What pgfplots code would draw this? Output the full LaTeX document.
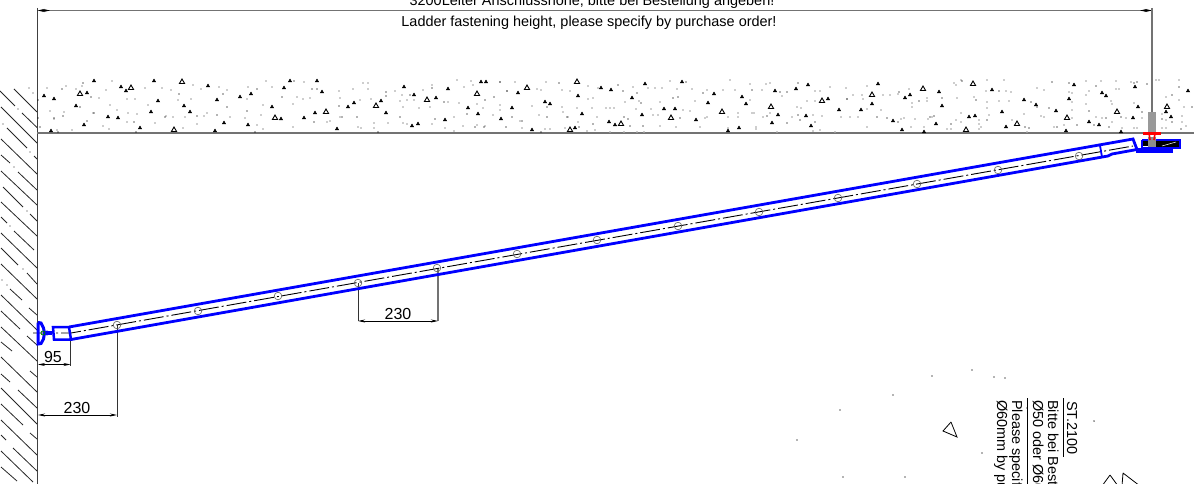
\documentclass[border=0pt]{standalone}
\usepackage{fontspec}
\setmainfont{Liberation Sans}
\usepackage{pgfplots}
\pgfplotsset{compat=1.18}
\usetikzlibrary{arrows.meta}

\definecolor{ladder}{RGB}{0,0,255}
\definecolor{dimgray}{RGB}{115,115,115}
\definecolor{speck}{RGB}{175,175,175}

\tikzset{dimline/.style={black, line width=0.9pt,
    {Stealth[length=7pt,width=3pt]}-{Stealth[length=7pt,width=3pt]}}}

\begin{document}
\begin{tikzpicture}
\useasboundingbox (0,0) rectangle (1199pt,484pt);
\clip (0,0) rectangle (1199pt,484pt);
\begin{axis}[
    at={(0,0)}, anchor=south west,
    scale only axis,
    width=1199pt, height=484pt,
    xmin=0, xmax=1199,
    ymin=0, ymax=484,
    y dir=reverse,
    hide axis,
    clip=true,
    unbounded coords=jump,
]

% wall hatching
\addplot[black!85, line width=0.8pt] coordinates {
  (14,89) (37,112) (nan,nan)
  (0,91) (15,106) (nan,nan) (22,113) (37,127.5) (nan,nan)
  (1,107) (37,143) (nan,nan)
  (7,128) (27,148) (nan,nan) (34,156) (37,159) (nan,nan)
  (1,139) (37,174) (nan,nan)
  (1,155) (10,163) (nan,nan) (18,172) (37,190) (nan,nan)
  (1,171) (37,205) (nan,nan)
  (3,187) (23,207) (nan,nan) (30,214) (37,221) (nan,nan)
  (1,202) (37,236) (nan,nan)
  (1,217) (7,223) (nan,nan) (14,231) (34,250) (nan,nan)
  (1,233) (37,268) (nan,nan)
  (1,248) (18,265) (nan,nan) (27,273) (37,284) (nan,nan)
  (1,264) (37,299) (nan,nan)
  (10,289) (22,300) (nan,nan) (29,308) (37,315) (nan,nan)
  (1,295) (37,330) (nan,nan)
  (1,311) (20,329) (nan,nan) (27,336) (37,345) (nan,nan)
  (1,327) (37,361) (nan,nan)
  (1,342) (12,351) (nan,nan) (30,371) (37,377) (nan,nan)
  (1,357) (37,392) (nan,nan)
  (1,374) (10,382) (nan,nan) (18,390) (37,408) (nan,nan)
  (1,388) (37,424) (nan,nan)
  (1,404) (23,425) (nan,nan) (30,433) (37,439) (nan,nan)
  (1,420) (37,455) (nan,nan)
  (1,435) (6,440) (nan,nan) (13,448) (37,471) (nan,nan)
  (1,451) (33,482) (nan,nan)
  (1,467) (17,481)
};

% concrete specks
\addplot[only marks, mark=*, mark size=0.55pt, speck, mark options={draw=none, fill=speck}] coordinates {
  (29,88) (33,93) (18,109) (3,124) (30,152) (14,167) (27,211) (10,226) (23,269) (2,280) (7,285)
  (47,88) (66,86) (82,86) (76,89) (112,81) (106,90) (145,88) (162,88) (171,90) (193,85)
  (201,89) (219,87) (227,90) (248,87) (266,81) (272,87) (297,97) (293,104) (247,99) (135,99)
  (127,99) (99,98) (110,105) (148,105) (178,100) (191,99) (207,113) (263,105) (50,111) (64,112)
  (117,110) (128,113) (137,114) (166,116) (173,117) (185,117) (204,116) (230,117) (245,118) (261,115)
  (54,119) (93,113) (103,126) (109,129) (127,122) (155,123) (183,128) (197,124) (257,125) (263,129)
  (293,127) (72,130) (57,130)
  (304,82) (303,99) (310,98) (339,91) (353,89) (363,83) (368,83) (368,89) (340,98) (360,100)
  (371,99) (395,91) (402,95) (400,101) (407,100) (414,100) (423,90) (432,85) (457,80) (464,87)
  (471,81) (473,85) (459,103) (448,102) (477,104) (483,108) (500,110) (500,82) (507,91) (515,82)
  (532,106) (537,89) (541,90) (546,82) (562,107) (563,112) (577,108) (592,108) (588,99) (593,98)
  (598,88) (588,86) (562,90) (570,91) (403,107) (419,108) (430,107) (327,122) (330,121) (340,117)
  (358,127) (361,128) (374,123) (374,128) (388,123) (403,123) (407,124) (432,124) (445,128) (454,117)
  (454,131) (463,126) (477,125) (485,126) (493,115) (500,105) (520,121) (522,128) (539,115) (545,129)
  (550,129) (565,128) (568,117) (578,122) (587,131) (595,130) (597,117)
  (606,108) (610,108) (614,108) (633,87) (648,88) (655,88) (662,88) (670,81) (677,89) (692,89)
  (707,90) (723,90) (735,90) (730,80) (750,84) (766,84) (770,83) (750,100) (762,90) (782,96)
  (807,101) (815,101) (815,91) (820,91) (830,87) (846,88) (867,86) (853,95) (862,95) (863,99)
  (883,95) (890,95) (898,94) (847,99) (797,107) (801,108) (867,109) (881,110)
  (625,102) (639,101) (660,102) (636,109) (651,109) (695,101) (683,110) (690,111) (707,117) (653,115)
  (658,115) (728,117) (738,113) (738,117) (752,113) (754,113) (763,117) (770,113) (792,117) (813,115)
  (822,116) (841,117) (850,117) (858,117) (660,126) (676,127) (705,118) (700,127) (610,132) (624,132)
  (637,132) (644,132) (728,128) (756,127) (756,129) (777,132) (813,131) (820,130) (835,132) (867,127)
  (961,80) (954,83) (987,80) (1004,80) (909,89) (927,98) (927,101) (912,103) (912,107) (957,98)
  (956,85) (986,91) (1006,91) (1011,92) (974,97) (987,102) (999,101) (1009,101) (987,108) (1037,88)
  (1044,90) (1069,92) (1072,93) (1086,81) (1101,81) (1116,81) (1131,82) (1089,91) (1086,95) (1116,89)
  (1119,89) (1072,102) (1086,104) (1134,103) (1166,97) (1156,80) (1159,80) (1179,80) (1179,100) (1184,107)
  (1111,101) (1112,104) (904,118) (901,119) (915,119) (932,117) (928,119) (961,113) (961,122) (956,120)
  (979,120) (979,124) (979,129) (989,115) (1012,120) (1024,114) (1041,116) (1044,117) (1072,110) (1072,118)
  (1102,118) (1096,117) (1112,122) (1126,118) (1142,118) (1162,114) (1166,120) (1182,122) (1182,116) (1064,125)
  (1054,127) (924,127) (911,127) (947,129) (951,129) (981,127) (1027,132) (1122,128) (1134,128) (1137,128)
  (1162,128) (1166,128) (1186,126)
};
\addplot[only marks, mark=*, mark size=0.45pt, black, mark options={draw=none, fill=black}] coordinates {
  (83,83) (62,89) (91,97) (80,107) (54,118) (63,116) (87,121) (94,113) (134,122) (165,117)
  (197,116) (217,115) (227,107) (247,111) (257,89) (282,97) (294,81) (223,94) (179,94) (40,127)
  (58,132) (136,132) (255,132) (38,118) (38,100)
  (312,89) (317,89) (339,106) (357,117) (386,92) (386,96) (400,117) (410,95) (432,88) (444,102)
  (435,119) (485,100) (494,97) (500,82) (507,91) (467,114) (475,127) (484,127) (506,127) (512,117)
  (522,121) (547,107) (547,117) (559,83) (567,117) (579,127) (593,124) (378,132) (541,132) (314,122)
  (342,117)
  (618,85) (623,91) (637,93) (673,98) (678,97) (686,82) (703,93) (752,90) (780,92) (787,92)
  (798,83) (641,103) (624,117) (628,119) (630,126) (643,126) (680,118) (767,116) (787,123) (798,115)
  (800,120) (815,122) (847,99) (877,117) (887,118) (898,122)
  (899,92) (919,101) (942,98) (962,81) (976,100) (999,91) (1031,102) (1037,107) (1049,108) (1052,82)
  (1069,83) (1089,111) (1096,86) (1134,83) (1137,82) (1147,84) (1142,112) (1192,107) (930,117) (934,116)
  (951,124) (987,120) (1025,127) (1029,128) (1057,127) (1077,125) (1094,125) (1109,127) (1121,117) (1162,119)
  (1172,122) (1181,129) (1106,118) (1172,95) (1179,87)
  (932,376) (972,370) (994,377) (1005,378) (982,453) (1094,421) (1027,408) (797,440) (840,410) (893,395)
  (905,477) (843,477)
};

% concrete stones, small ones filled, larger ones open
\addplot[only marks, mark=triangle*, mark size=2pt, black] coordinates {
  (44,96) (54,99) (87,93) (121,87) (126,91) (94,81) (154,81) (208,86) (217,100) (240,97)
  (251,94) (284,88) (290,81) (158,101) (184,106) (76,106) (151,112) (190,112) (108,117) (118,118)
  (272,107) (281,119) (84,125) (140,128) (224,123) (248,125) (51,131) (215,131)
  (317,81) (322,92) (354,103) (348,107) (381,101) (404,87) (414,95) (436,98) (448,89) (481,82)
  (486,82) (518,93) (578,96) (545,102) (550,104) (512,108) (468,108) (478,114) (501,119) (445,120)
  (418,124) (412,126) (386,113) (315,113) (304,118) (337,129) (532,130) (575,128) (582,114)
  (601,88) (611,90) (645,84) (682,82) (632,98) (664,109) (675,109) (642,115) (696,120) (609,122)
  (615,125) (714,94) (708,103) (742,97) (746,104) (775,91) (796,89) (808,85) (778,115) (772,123)
  (806,116) (811,126) (828,99) (839,110) (861,110) (872,104) (878,84) (893,121) (728,131) (739,128)
  (910,95) (905,98) (939,92) (992,90) (942,106) (1024,100) (1036,105) (1069,99) (1074,85) (1102,93)
  (1106,96) (1135,87) (1138,107) (1188,91) (1166,112) (1171,117) (1133,118) (1056,111) (1002,112) (975,116)
  (969,117) (936,124) (1089,122) (1099,125) (1006,127) (902,130) (924,132) (1066,131) (1121,132)
};
\addplot[only marks, mark=triangle, mark size=3pt, black, mark options={line width=0.9pt}] coordinates {
  (80,94) (131,88) (182,82) (174,130) (275,118) (427,100) (376,106) (477,94) (527,88) (577,82)
  (326,112) (570,130) (621,124) (671,118) (722,112) (771,107) (822,101) (872,95) (923,89) (973,84)
  (1017,124) (1067,118) (1117,112) (1167,107) (966,130)
};
% stones at the bottom right
\addplot[black, line width=0.8pt] coordinates {
  (951,422) (943,431) (957,437) (951,422) (nan,nan)
  (1110,475) (1102,486) (nan,nan) (1110,475) (1118,486) (nan,nan)
  (1123,473) (1122,486) (nan,nan) (1123,473) (1140,486)
};

% wall and ceiling
\addplot[black!75, line width=1.4pt] coordinates {(37.5,8) (37.5,484)};
\addplot[dimgray, line width=1.7pt] coordinates {(37,133) (1194,133)};

% top dimension
\addplot[dimgray, line width=1.8pt] coordinates {(47,10.5) (1142,10.5)};
\addplot[dimline, line width=0.6pt] coordinates {(37.5,10.5) (50,10.5)};
\addplot[dimline, line width=0.6pt] coordinates {(1140,10.5) (1152,10.5)};
\addplot[dimgray, line width=1.6pt] coordinates {(1152,8) (1152,112)};
\node[font=\fontsize{14.45}{17}\selectfont, anchor=base, inner sep=0pt] at (axis cs:592,6) {3200Leiter Anschlusshöhe, bitte bei Bestellung angeben!};
\node[font=\fontsize{14.45}{17}\selectfont, anchor=base, inner sep=0pt] at (axis cs:589,27) {Ladder fastening height, please specify by purchase order!};

% dimensions at the ladder
\addplot[dimgray, line width=1.3pt] coordinates {(438,268) (438,321)};
\addplot[black!80, line width=1pt] coordinates {(358,283) (358,321)};
\addplot[dimline] coordinates {(358,321) (438,321)};
\node[font=\fontsize{16}{18}\selectfont] at (axis cs:398,314) {230};

\addplot[black!80, line width=1pt] coordinates {(70.5,340) (70.5,366)};
\addplot[dimline] coordinates {(38,364.5) (70.5,364.5)};
\node[font=\fontsize{16}{18}\selectfont] at (axis cs:53,357) {95};

\addplot[black!80, line width=1pt] coordinates {(117,325) (117,417)};
\addplot[dimline] coordinates {(38,415) (117,415)};
\node[font=\fontsize{16}{18}\selectfont] at (axis cs:77,408) {230};

% centre line and rung holes
\addplot[black, line width=0.9pt, dash pattern=on 20pt off 3pt on 2pt off 3pt] coordinates {(33,333) (71,333) (1133,146)};
\addplot[only marks, mark=o, mark size=3.8pt, mark options={draw=black!65, line width=0.6pt}] coordinates {
  (117,325) (198,311) (278,296) (358,283) (437,268) (517,254) (597,240)
  (678,226) (759,212) (838,198) (917,184) (998,170) (1079,156)
};

% ladder
\addplot[ladder, line width=2.8pt] coordinates {(69,327) (1133,139) (1137,149.5) (1112,154) (1108,156) (71,339.5)};
\addplot[ladder, line width=2.5pt] coordinates {(69,327) (53,327) (54,339.5) (71,339.5) (69,327)};
\addplot[ladder, line width=1.8pt] coordinates {(1100,145.5) (1102,157)};

% wall bracket
\addplot[ladder, line width=3pt] coordinates {(38,322.5) (41,323) (43.5,328) (44.5,333) (43.5,339) (41,343.5) (38,344) (38,322.5)};
\addplot[ladder, line width=4pt] coordinates {(44,333) (52,333)};
\addplot[only marks, mark=*, mark size=2.2pt, ladder] coordinates {(47,333)};
\addplot[only marks, mark=o, mark size=2pt, green!50!black, mark options={line width=0.8pt}] coordinates {(43,333)};

% ceiling bracket
\addplot[fill=black, draw=none] coordinates {(1156,140) (1179,140) (1179,148) (1156,148)} -- cycle;
\addplot[fill=black, draw=none] coordinates {(1143,141) (1147.5,141) (1147.5,146) (1143,146)} -- cycle;
\addplot[white, line width=0.5pt] coordinates {(1162,146) (1176,142)};
\addplot[ladder, line width=2.8pt] coordinates {(1142,140) (1180,140) (1180,148) (1142,148) (1142,140)};
\addplot[ladder, line width=2.6pt] coordinates {(1136,149) (1172,149) (1172,151.5) (1136,151.5)};
\addplot[fill=black!40, draw=none] coordinates {(1148,112) (1156,112) (1156,133) (1148,133)} -- cycle;
\addplot[fill=black!45, draw=none] coordinates {(1148,137) (1156,137) (1156,147) (1148,147)} -- cycle;
\addplot[red, line width=2.6pt] coordinates {(1143,133.5) (1161,133.5)};
\addplot[red, line width=1.6pt] coordinates {(1149,133) (1150,140)};
\addplot[red, line width=1.6pt] coordinates {(1155,133) (1154,140)};

% rotated note
\addplot[black, line width=0.9pt] coordinates {(1063,398) (1063,457)};
\addplot[black, line width=0.9pt] coordinates {(1027,398) (1027,484)};
\node[rotate=-90, anchor=base west, inner sep=0pt, font=\fontsize{14.45}{17}\selectfont] at (axis cs:1067,401) {ST.2100};
\node[rotate=-90, anchor=base west, inner sep=0pt, font=\fontsize{14.45}{17}\selectfont] at (axis cs:1048,400) {Bitte bei Bestellung};
\node[rotate=-90, anchor=base west, inner sep=0pt, font=\fontsize{14.45}{17}\selectfont] at (axis cs:1033,400) {Ø50 oder Ø60mm};
\node[rotate=-90, anchor=base west, inner sep=0pt, font=\fontsize{14.45}{17}\selectfont] at (axis cs:1012,400) {Please specify};
\node[rotate=-90, anchor=base west, inner sep=0pt, font=\fontsize{14.45}{17}\selectfont] at (axis cs:997,400) {Ø60mm by purchase};

\end{axis}
\end{tikzpicture}
\end{document}
